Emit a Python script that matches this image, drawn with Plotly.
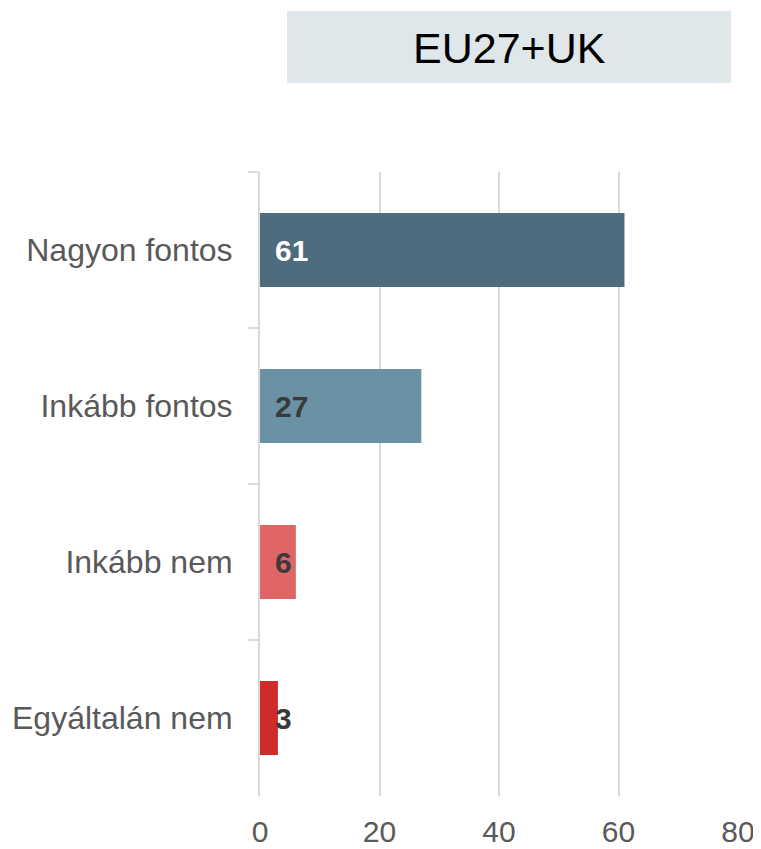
import plotly.graph_objects as go

categories = ["Nagyon fontos", "Inkább fontos", "Inkább nem", "Egyáltalán nem"]
values = [61, 27, 6, 3]
bar_colors = ["#4f6c7e", "#6a91a4", "#e06565", "#d12a2a"]
label_colors = ["#ffffff", "#3a3a3a", "#3a3a3a", "#3a3a3a"]
x_ticks = [0, 20, 40, 60, 80]
title_text = "EU27+UK"

# page offset (body margin) compensation
OFF = 8
W, H = 761 - OFF, 849 - OFF
ml, mt = 260 - OFF, 172 - OFF
plot_right, plot_bottom = 738 - OFF, 796 - OFF
mr, mb = W - plot_right, H - plot_bottom
plot_w = W - ml - mr
plot_h = H - mt - mb

FONT = "Liberation Sans, Arial, sans-serif"

fig = go.Figure()
fig.add_trace(go.Bar(
    x=values, y=categories, orientation="h",
    marker=dict(color=bar_colors, line=dict(width=0)),
    width=0.475, hoverinfo="skip",
))

for c, v, col in zip(categories, values, label_colors):
    fig.add_annotation(
        x=0, y=c, xref="x", yref="y", text=f"<b>{v}</b>",
        showarrow=False, xanchor="left", yanchor="middle", xshift=13,
        font=dict(family=FONT, size=30, color=col),
    )

def px_to_paper_x(px):
    return (px - OFF - ml) / plot_w

def px_to_paper_y(py):
    return (H - mb - (py - OFF)) / plot_h

fig.add_shape(
    type="rect", xref="paper", yref="paper",
    x0=px_to_paper_x(287), x1=px_to_paper_x(731),
    y0=px_to_paper_y(83), y1=px_to_paper_y(11),
    fillcolor="#e0e7eb", line=dict(width=0), layer="below",
)
fig.add_annotation(
    xref="paper", yref="paper",
    x=px_to_paper_x((287 + 731) / 2), y=px_to_paper_y(48),
    text=title_text, showarrow=False, xanchor="center", yanchor="middle",
    font=dict(family=FONT, size=43, color="#000000"),
)

fig.update_layout(
    width=W, height=H,
    margin=dict(l=ml, r=mr, t=mt, b=mb, pad=0, autoexpand=False),
    paper_bgcolor="white", plot_bgcolor="white",
    showlegend=False,
    font=dict(family=FONT, size=30, color="#595959"),
    xaxis=dict(
        range=[0, 80], tickvals=x_ticks, ticktext=[str(t) for t in x_ticks],
        showgrid=True, gridcolor="#d9d9d9", gridwidth=2,
        zeroline=False, showline=False, automargin=False,
        ticks="outside", ticklen=9, tickcolor="rgba(0,0,0,0)",
        tickfont=dict(size=30, color="#595959"),
    ),
    yaxis=dict(
        categoryorder="array", categoryarray=categories,
        range=[3.5, -0.5], automargin=False,
        showline=True, linecolor="#d9d9d9", linewidth=2,
        showgrid=False, zeroline=False,
        ticks="outside", ticklen=10, tickcolor="#d9d9d9", tickwidth=2,
        tickson="boundaries", ticklabelstandoff=19,
        tickfont=dict(size=32, color="#595959"),
    ),
)

fig.write_html("out.html")
